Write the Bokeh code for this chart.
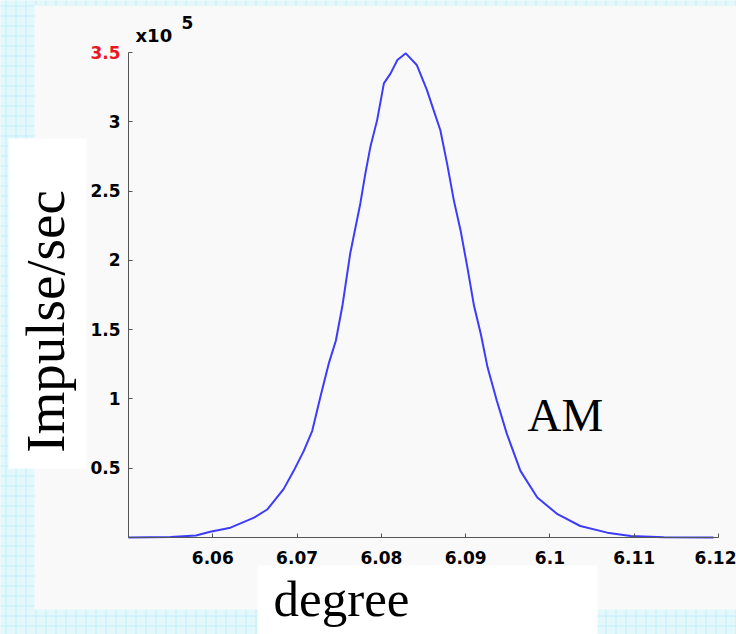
import math
from bokeh.plotting import figure
from bokeh.models import (ColumnDataSource, FixedTicker, Label, BoxAnnotation, Range1d)
from bokeh.embed import file_html
from bokeh.resources import INLINE

# ---- data ----
degree = [6.0500, 6.0550, 6.0580, 6.0597, 6.0621, 6.0649, 6.0665, 6.0684, 6.0696,
          6.0708, 6.0718, 6.0728, 6.0738, 6.0746, 6.0754, 6.0763, 6.0775, 6.0781,
          6.0787, 6.0795, 6.0803, 6.0811, 6.0819, 6.0829, 6.0842, 6.0854, 6.0862,
          6.0870, 6.0878, 6.0886, 6.0894, 6.0902, 6.0910, 6.0918, 6.0926, 6.0937,
          6.0949, 6.0965, 6.0985, 6.1009, 6.1036, 6.1068, 6.1096, 6.1135, 6.1194]
impulse = [0, 300, 1500, 4200, 7100, 14300, 20400, 34900, 48100,
           62500, 77000, 102300, 126400, 142000, 168000, 204800, 240900, 262600,
           281900, 301200, 327700, 334900, 344600, 349400, 341000, 323000, 308400,
           293900, 269800, 243300, 221600, 195100, 167000, 146900, 122800, 98700,
           74600, 48100, 28800, 16800, 8300, 3500, 1100, 200, 0]

x_ticks = [6.06, 6.07, 6.08, 6.09, 6.10, 6.11, 6.12]
x_tick_labels = ["6.06", "6.07", "6.08", "6.09", "6.1", "6.11", "6.12"]
y_ticks = [50000, 100000, 150000, 200000, 250000, 300000, 350000]
y_tick_labels = ["0.5", "1", "1.5", "2", "2.5", "3", "3.5"]

X0, X1 = 6.05, 6.12          # axis extent (data)
Y0, Y1 = 0, 350000
W, H = 736, 634
AL, AR, AT, AB = 128, 718, 52, 537  # pixel positions of the axis extents


def px2x(px):
    return X0 + (px - AL) / (AR - AL) * (X1 - X0)


def px2y(py):
    return Y0 + (AB - py) / (AB - AT) * (Y1 - Y0)


p = figure(width=W, height=H, output_backend="svg", toolbar_location=None,
           x_range=Range1d(px2x(0), px2x(W)), y_range=Range1d(px2y(H), px2y(0)),
           min_border=0, min_border_left=0, min_border_right=0,
           min_border_top=0, min_border_bottom=0)

p.background_fill_color = "#e4f8fc"
p.border_fill_color = "#e4f8fc"
p.outline_line_color = None
p.xgrid.visible = False
p.ygrid.visible = False

# graph-paper texture of the slide background
p.add_layout(BoxAnnotation(left=px2x(0), right=px2x(W), top=px2y(0), bottom=px2y(H),
                           fill_color="#e4f8fc", fill_alpha=1.0, line_color=None,
                           hatch_pattern="+", hatch_color="#c2eef8", hatch_scale=10,
                           hatch_weight=1, level="underlay"))

# pale panel behind the chart
p.add_layout(BoxAnnotation(left=px2x(34), right=px2x(W + 5), top=px2y(5), bottom=px2y(609),
                           fill_color="#f9f9f9", fill_alpha=1.0, line_color=None,
                           level="underlay"))

# white boxes behind the y-axis title and the x-axis title
p.add_layout(BoxAnnotation(left=px2x(8), right=px2x(86), top=px2y(138), bottom=px2y(468),
                           fill_color="white", fill_alpha=1.0, line_color=None, level="overlay"))
p.add_layout(BoxAnnotation(left=px2x(257), right=px2x(597), top=px2y(565), bottom=px2y(H + 5),
                           fill_color="white", fill_alpha=1.0, line_color=None, level="overlay"))

src = ColumnDataSource(dict(x=degree, y=impulse))
p.line("x", "y", source=src, line_color="#3c3cfa", line_width=2)

for ax in (p.xaxis[0], p.yaxis[0]):
    ax.axis_line_color = "#555555"
    ax.major_tick_line_color = "#555555"
    ax.major_tick_in = 4
    ax.major_tick_out = 0
    ax.minor_tick_line_color = None
    ax.major_label_text_font = "DejaVu Sans"
    ax.major_label_text_font_style = "bold"
    ax.major_label_text_font_size = "17px"
    ax.major_label_text_color = "black"

p.xaxis.fixed_location = Y0
p.xaxis.bounds = (X0, X1)
p.xaxis.ticker = FixedTicker(ticks=x_ticks)
p.xaxis.major_label_overrides = {t: s for t, s in zip(x_ticks, x_tick_labels)}
p.xaxis.major_label_standoff = 13

p.yaxis.fixed_location = X0
p.yaxis.bounds = (Y0, Y1)
p.yaxis.ticker = FixedTicker(ticks=y_ticks)
ylab = {t: s for t, s in zip(y_ticks, y_tick_labels)}
ylab[y_ticks[-1]] = " "
p.yaxis.major_label_overrides = ylab
p.yaxis.major_label_standoff = 8

# red top tick label
p.add_layout(Label(x=X0, y=y_ticks[-1], text=y_tick_labels[-1], x_offset=-8,
                   text_align="right", text_baseline="middle", text_color="#e8191f",
                   text_font="DejaVu Sans", text_font_style="bold", text_font_size="17px"))

# exponent
p.add_layout(Label(x=px2x(135), y=px2y(35), text="x10", text_align="left",
                   text_baseline="alphabetic", text_color="black",
                   text_font="DejaVu Sans", text_font_style="bold", text_font_size="18px"))
p.add_layout(Label(x=px2x(181), y=px2y(22), text="5", text_align="left",
                   text_baseline="alphabetic", text_color="black",
                   text_font="DejaVu Sans", text_font_style="bold", text_font_size="17px"))

# titles
p.add_layout(Label(x=px2x(45), y=px2y(321), text="Impulse/sec", angle=math.pi / 2,
                   text_align="center", text_baseline="alphabetic", text_color="black",
                   text_font="Liberation Serif", text_font_size="55px", level="overlay"))
p.add_layout(Label(x=px2x(341), y=px2y(598), text="degree",
                   text_align="center", text_baseline="alphabetic", text_color="black",
                   text_font="Liberation Serif", text_font_size="51px", level="overlay"))
p.add_layout(Label(x=px2x(527), y=px2y(414), text="AM",
                   text_align="left", text_baseline="alphabetic", text_color="black",
                   text_font="Liberation Serif", text_font_size="47px"))

open("out.html", "w").write(file_html(p, INLINE))
